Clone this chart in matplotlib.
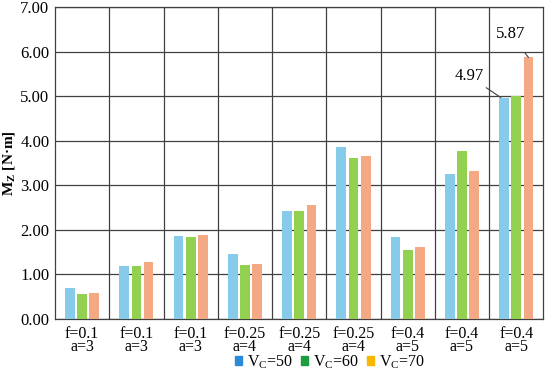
import numpy as np
import matplotlib.pyplot as plt
from matplotlib.patches import Patch

plt.rcParams['font.family'] = ['Liberation Serif', 'DejaVu Serif']

categories = ['f=0.1\na=3', 'f=0.1\na=3', 'f=0.1\na=3',
              'f=0.25\na=4', 'f=0.25\na=4', 'f=0.25\na=4',
              'f=0.4\na=5', 'f=0.4\na=5', 'f=0.4\na=5']
vc50 = [0.70, 1.18, 1.86, 1.45, 2.42, 3.86, 1.85, 3.25, 4.97]
vc60 = [0.57, 1.19, 1.85, 1.22, 2.43, 3.62, 1.54, 3.76, 5.00]
vc70 = [0.59, 1.28, 1.88, 1.24, 2.55, 3.66, 1.61, 3.32, 5.87]
series_names = ['V$_\\mathregular{C}$=50', 'V$_\\mathregular{C}$=60', 'V$_\\mathregular{C}$=70']

bar_colors = ['#87cbea', '#92d050', '#f4a984']
legend_colors = ['#2b8ad8', '#1d9e3e', '#fbb700']

fig = plt.figure(figsize=(5.5, 3.73), dpi=100)
ax = fig.add_axes([0.1, 0.145, 0.888, 0.836])

x = np.arange(len(categories))
w = 0.18
step = 0.225
for i, vals in enumerate([vc50, vc60, vc70]):
    ax.bar(x + (i - 1) * step, vals, w, color=bar_colors[i], zorder=3)

ax.set_xlim(-0.5, len(categories) - 0.5)
ax.set_ylim(0, 7)
ax.set_yticks(np.arange(0, 7.01, 1))
ax.set_yticklabels(['%.2f' % v for v in np.arange(0, 7.01, 1)], fontsize=12)
ax.set_xticks(x)
ax.set_xticklabels(categories, fontsize=11.5, linespacing=0.78)
ax.tick_params(axis='x', length=0, pad=5)
ax.tick_params(axis='y', length=0, pad=4)

# grid lines between groups and at every unit
for xv in np.arange(0.5, len(categories) - 0.5, 1):
    ax.axvline(xv, color='#404040', lw=0.9, zorder=1)
ax.yaxis.grid(True, color='#404040', lw=0.9, zorder=1)
for s in ax.spines.values():
    s.set_color('#404040')
    s.set_linewidth(0.9)

ax.set_ylabel('M$_\\mathregular{Z}$ [N·m]', fontsize=11, fontweight='bold', labelpad=2)

# callouts
ax.annotate('4.97', xy=(x[8] - step - 0.06, vc50[8]), xytext=(7.40, 5.45),
            fontsize=12, ha='right', va='center',
            arrowprops=dict(arrowstyle='-', color='#404040', lw=0.8,
                            shrinkA=1, shrinkB=0))
ax.annotate('5.87', xy=(x[8] + step, vc70[8]), xytext=(7.89, 6.39),
            fontsize=12, ha='center', va='center',
            arrowprops=dict(arrowstyle='-', color='#404040', lw=0.8,
                            shrinkA=7, shrinkB=0))

handles = [Patch(color=c) for c in legend_colors]
fig.legend(handles, series_names, loc='lower center', bbox_to_anchor=(0.6, -0.033),
           ncol=3, frameon=False, fontsize=11.5, handlelength=0.45, handleheight=0.45,
           handletextpad=0.3, columnspacing=0.5)

fig.savefig('out.png', dpi=100)
